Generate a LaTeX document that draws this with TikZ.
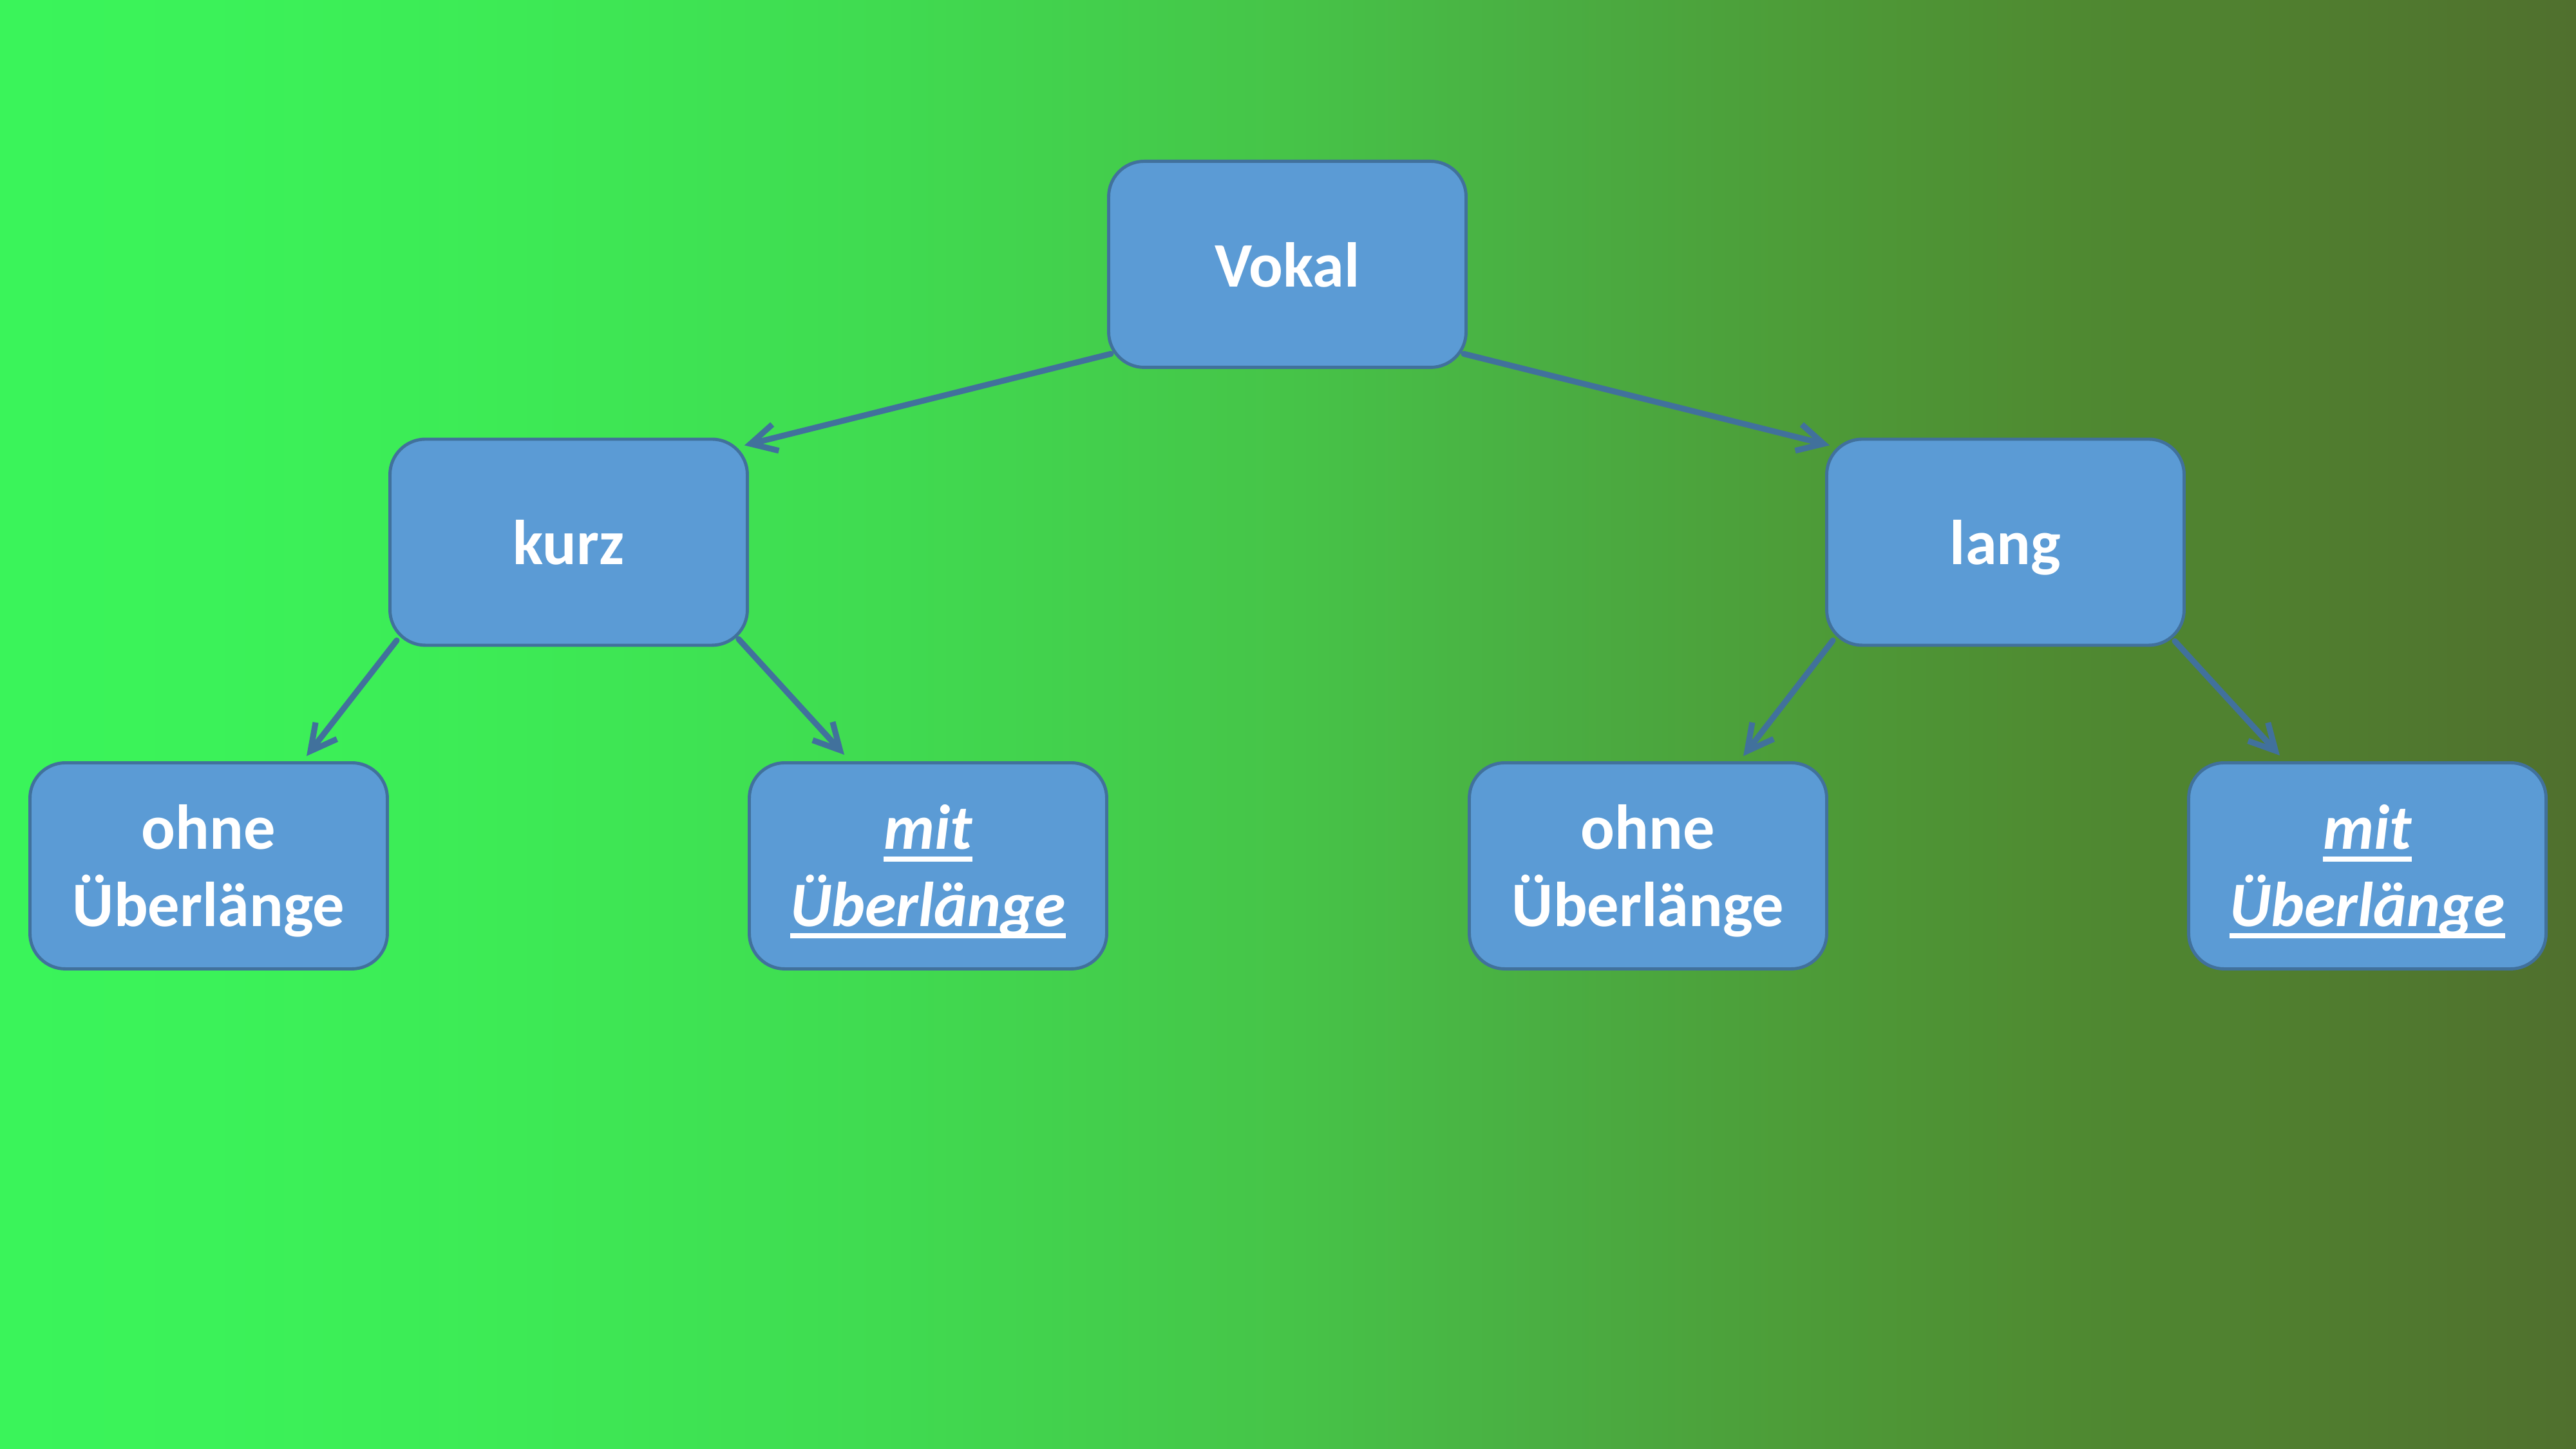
\documentclass[tikz,border=0pt]{standalone}
\usepackage{fontspec}
\setmainfont{Carlito}
\usetikzlibrary{arrows.meta,calc}
\definecolor{boxfill}{HTML}{5B9BD5}
\definecolor{boxline}{HTML}{41719C}
\definecolor{g0}{RGB}{58,244,90}
\definecolor{g1}{RGB}{59,242,89}
\definecolor{g2}{RGB}{61,234,85}
\definecolor{g3}{RGB}{64,218,80}
\definecolor{g4}{RGB}{70,196,72}
\definecolor{g5}{RGB}{74,174,66}
\definecolor{g6}{RGB}{77,156,56}
\definecolor{g7}{RGB}{79,138,49}
\definecolor{g8}{RGB}{80,125,47}
\definecolor{g9}{RGB}{80,112,46}
\newcommand\ulword[1]{\setbox0\hbox{#1}\rlap{\rule[-5.4pt]{\wd0}{2.3pt}}\box0}
\newcommand\topstrut{\rule{0pt}{26pt}}
\newcommand\botstrut{\rule[-6.5pt]{0pt}{0pt}}
\tikzset{
  box/.style={draw=boxline, line width=1.4pt, fill=boxfill, rounded corners=0.55cm,
    minimum width=5.55cm, minimum height=3.2cm, align=center, text=white,
    font=\fontsize{28}{34}\selectfont\bfseries, inner sep=0pt},
  onebox/.style={box, text height=0.9cm, text depth=0.2cm},
  conn/.style={draw=boxline, line width=2.6pt, line cap=round,
    -{Straight Barb[length=4mm, width=4.2mm]}}
}
\begin{document}
\begin{tikzpicture}
\useasboundingbox (0,0) rectangle (40,22.5);
% background gradient
\shade[left color=g0, right color=g1] (0,0) rectangle (3.21,22.5);
\shade[left color=g1, right color=g2] (3.2,0) rectangle (8.01,22.5);
\shade[left color=g2, right color=g3] (8,0) rectangle (14.01,22.5);
\shade[left color=g3, right color=g4] (14,0) rectangle (20.01,22.5);
\shade[left color=g4, right color=g5] (20,0) rectangle (24.01,22.5);
\shade[left color=g5, right color=g6] (24,0) rectangle (28.01,22.5);
\shade[left color=g6, right color=g7] (28,0) rectangle (32.01,22.5);
\shade[left color=g7, right color=g8] (32,0) rectangle (36.01,22.5);
\shade[left color=g8, right color=g9] (36,0) rectangle (40,22.5);
% nodes
\node[onebox] (vokal) at (19.99,18.395) {Vokal};
\node[onebox] (kurz) at (8.83,14.08) {kurz};
\node[onebox] (lang) at (31.14,14.08) {lang};
\node[box] (ohneL) at (3.24,9.055) {\topstrut ohne\\Überlänge\botstrut};
\node[box] (mitL) at (14.41,9.055) {\topstrut\itshape\ulword{mit}\\\itshape\ulword{Überlänge}\botstrut};
\node[box] (ohneR) at (25.59,9.055) {\topstrut ohne\\Überlänge\botstrut};
\node[box] (mitR) at (36.76,9.055) {\topstrut\itshape\ulword{mit}\\\itshape\ulword{Überlänge}\botstrut};
% connectors
\draw[conn] ($(vokal.south west)+(0.06,0.235)$) -- ($(kurz.north east)+(-0.07,-0.12)$);
\draw[conn] ($(vokal.south east)+(-0.06,0.235)$) -- ($(lang.north west)+(0.07,-0.12)$);
\draw[conn] ($(kurz.south west)+(0.13,0.10)$) -- ($(ohneL.north)+(1.52,0.08)$);
\draw[conn] ($(kurz.south east)+(-0.16,0.12)$) -- ($(mitL.north)+(-1.30,0.10)$);
\draw[conn] ($(lang.south west)+(0.12,0.10)$) -- ($(ohneR.north)+(1.48,0.08)$);
\draw[conn] ($(lang.south east)+(-0.17,0.09)$) -- ($(mitR.north)+(-1.36,0.09)$);
\end{tikzpicture}
\end{document}
